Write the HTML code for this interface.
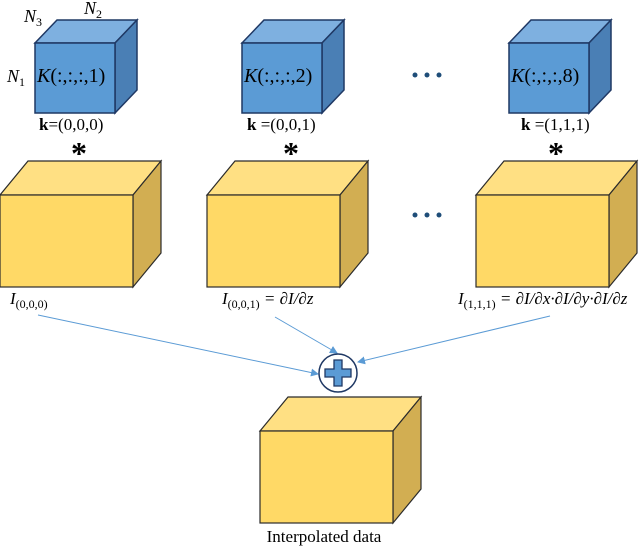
<!DOCTYPE html>
<html><head><style>body{margin:0;background:#fff} svg text{font-family:"Liberation Serif",serif}</style></head><body>
<svg width="640" height="547" xmlns="http://www.w3.org/2000/svg">
<defs>
<marker id="a" markerWidth="8" markerHeight="8" refX="7" refY="4" orient="auto" markerUnits="userSpaceOnUse"><path d="M0,0 L8,4 L0,8 z" fill="#5b9bd5"/></marker>
<g id="bc">
<polygon points="0,23 22,0 102,0 80,23" fill="#7eb0e0" stroke="#1f3864" stroke-width="1.5"/>
<polygon points="80,23 102,0 102,70 80,93" fill="#4a7fb5" stroke="#1f3864" stroke-width="1.5"/>
<rect x="0" y="23" width="80" height="70" fill="#5b9bd5" stroke="#1f3864" stroke-width="1.5"/>
</g>
<g id="yc">
<polygon points="0,34 28,0 161,0 133,34" fill="#ffe083" stroke="#2b2b2b" stroke-width="1.2"/>
<polygon points="133,34 161,0 161,92 133,126" fill="#d2ae52" stroke="#2b2b2b" stroke-width="1.2"/>
<rect x="0" y="34" width="133" height="92" fill="#ffd966" stroke="#2b2b2b" stroke-width="1.2"/>
</g>
</defs>
<use href="#bc" x="35" y="20"/>
<use href="#bc" x="242" y="20"/>
<use href="#bc" x="509" y="20"/>
<g font-size="20">
<text x="37" y="82"><tspan font-style="italic">K</tspan>(:,:,:,1)</text>
<text x="244" y="82"><tspan font-style="italic">K</tspan>(:,:,:,2)</text>
<text x="511" y="82"><tspan font-style="italic">K</tspan>(:,:,:,8)</text>
</g>
<g font-size="18" font-style="italic">
<text x="24" y="22">N<tspan font-size="12" dy="4" font-style="normal">3</tspan></text>
<text x="84" y="14">N<tspan font-size="12" dy="4" font-style="normal">2</tspan></text>
<text x="7" y="82">N<tspan font-size="12" dy="4" font-style="normal">1</tspan></text>
</g>
<g font-size="17">
<text x="39" y="130"><tspan font-weight="bold">k</tspan>=(0,0,0)</text>
<text x="247" y="130"><tspan font-weight="bold">k</tspan> =(0,0,1)</text>
<text x="521" y="130"><tspan font-weight="bold">k</tspan> =(1,1,1)</text>
</g>
<g font-size="32" font-weight="bold" text-anchor="middle">
<text x="79" y="164">*</text>
<text x="291" y="164">*</text>
<text x="556" y="164">*</text>
</g>
<g fill="#1f4e79"><circle cx="415" cy="75" r="2.5"/><circle cx="427" cy="75" r="2.5"/><circle cx="439" cy="75" r="2.5"/>
<circle cx="415" cy="215" r="2.5"/><circle cx="427" cy="215" r="2.5"/><circle cx="439" cy="215" r="2.5"/></g>
<use href="#yc" x="0" y="161"/>
<use href="#yc" x="207" y="161"/>
<use href="#yc" x="476" y="161"/>
<use href="#yc" x="260" y="397"/>
<g font-size="17" font-style="italic">
<text x="10" y="304">I<tspan font-size="12" dy="4" font-style="normal">(0,0,0)</tspan></text>
<text x="222" y="304">I<tspan font-size="12" dy="4" font-style="normal">(0,0,1)</tspan><tspan dy="-4"> = ∂I/∂z</tspan></text>
<text x="458" y="304">I<tspan font-size="12" dy="4" font-style="normal">(1,1,1)</tspan><tspan dy="-4"> = ∂I/∂x·∂I/∂y·∂I/∂z</tspan></text>
</g>
<g stroke="#5b9bd5" stroke-width="1" fill="none">
<line x1="38" y1="315" x2="318" y2="374" marker-end="url(#a)"/>
<line x1="275" y1="317" x2="337" y2="353" marker-end="url(#a)"/>
<line x1="550" y1="316" x2="358" y2="362" marker-end="url(#a)"/>
</g>
<circle cx="338" cy="373" r="19" fill="#fff" stroke="#1f3864" stroke-width="1.5"/>
<path d="M334,360 h8 v9 h9 v8 h-9 v9 h-8 v-9 h-9 v-8 h9 z" fill="#5b9bd5" stroke="#1f3864" stroke-width="1.3"/>
<text x="324" y="542" font-size="17" text-anchor="middle">Interpolated data</text>
</svg>
</body></html>
